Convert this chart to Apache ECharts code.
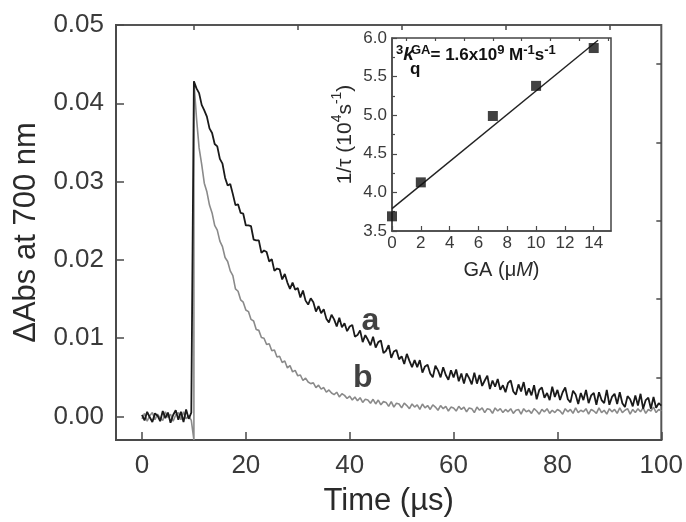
<!DOCTYPE html>
<html>
<head>
<meta charset="utf-8">
<title>ΔAbs at 700 nm</title>
<script src="https://cdn.jsdelivr.net/npm/echarts@6/dist/echarts.min.js"></script>
<style>
html, body { margin: 0; padding: 0; background: #fff; }
#main { width: 686px; height: 522px; }
</style>
</head>
<body>
<div id="main"></div>
<script>
// sampling of the two transients (µs)
var timeStep = 0.5;
var decayStart = 10;

// pre-flash baseline, t = 0 .. 9.5
var baseA = [0.0002, -0.0005, 0.0006, -0.0001, -0.0007, 0.0004, 0.0001, -0.0006, 0.0007, -0.0002,
	0.0005, -0.0008, 0.0002, 0.0008, -0.0004, 0.0006, -0.0007, 0.0009, -0.0003, 0.0005];
var baseB = [-0.0003, 0.0004, -0.0006, 0.0001, 0.0005, -0.0004, 0.0003, -0.0002, -0.0005, 0.0006,
	-0.0001, 0.0003, -0.0006, 0.0002, 0.0005, -0.0004, 0.0006, -0.0003, 0.0001, -0.0005];

// trace a (black), t = 10 .. 100
var decayA = [
	0.0428, 0.0419, 0.0413, 0.0398, 0.0391, 0.0383, 0.0368, 0.0362, 0.0348, 0.0345,
	0.0329, 0.0323, 0.0305, 0.0295, 0.0297, 0.0284, 0.0270, 0.0271, 0.0260, 0.0259,
	0.0244, 0.0244, 0.0243, 0.0226, 0.0225, 0.0225, 0.0209, 0.0212, 0.0210, 0.0198,
	0.0201, 0.0186, 0.0189, 0.0188, 0.0175, 0.0182, 0.0171, 0.0163, 0.0171, 0.0162,
	0.0164, 0.0152, 0.0161, 0.0148, 0.0143, 0.0151, 0.0146, 0.0134, 0.0141, 0.0132,
	0.0137, 0.0125, 0.0120, 0.0130, 0.0124, 0.0115, 0.0126, 0.0114, 0.0119, 0.0109,
	0.0115, 0.0117, 0.0102, 0.0104, 0.0110, 0.0095, 0.0104, 0.0098, 0.0091, 0.0102,
	0.0088, 0.0095, 0.0097, 0.0081, 0.0084, 0.0091, 0.0075, 0.0083, 0.0085, 0.0073,
	0.0077, 0.0067, 0.0080, 0.0071, 0.0063, 0.0072, 0.0063, 0.0072, 0.0056, 0.0064,
	0.0066, 0.0055, 0.0050, 0.0065, 0.0059, 0.0050, 0.0063, 0.0053, 0.0047, 0.0059,
	0.0050, 0.0060, 0.0045, 0.0055, 0.0042, 0.0055, 0.0049, 0.0041, 0.0056, 0.0042,
	0.0053, 0.0039, 0.0046, 0.0052, 0.0035, 0.0046, 0.0038, 0.0048, 0.0034, 0.0040,
	0.0031, 0.0043, 0.0046, 0.0032, 0.0028, 0.0041, 0.0032, 0.0044, 0.0027, 0.0036,
	0.0027, 0.0040, 0.0022, 0.0034, 0.0037, 0.0024, 0.0030, 0.0021, 0.0038, 0.0025,
	0.0034, 0.0021, 0.0031, 0.0037, 0.0022, 0.0018, 0.0033, 0.0028, 0.0016, 0.0030,
	0.0021, 0.0034, 0.0017, 0.0027, 0.0030, 0.0015, 0.0031, 0.0021, 0.0017, 0.0034,
	0.0015, 0.0025, 0.0029, 0.0016, 0.0031, 0.0017, 0.0012, 0.0026, 0.0022, 0.0013,
	0.0027, 0.0014, 0.0029, 0.0010, 0.0021, 0.0024, 0.0010, 0.0025, 0.0011, 0.0017,
	0.0014];

// trace b (grey), t = 10 .. 100
var decayB = [
	0.0428, 0.0381, 0.0343, 0.0322, 0.0298, 0.0287, 0.0270, 0.0260, 0.0244, 0.0238,
	0.0224, 0.0217, 0.0203, 0.0198, 0.0186, 0.0180, 0.0163, 0.0160, 0.0149, 0.0146,
	0.0136, 0.0134, 0.0124, 0.0122, 0.0111, 0.0110, 0.0101, 0.0100, 0.0092, 0.0093,
	0.0084, 0.0085, 0.0076, 0.0077, 0.0069, 0.0071, 0.0062, 0.0065, 0.0057, 0.0059,
	0.0052, 0.0053, 0.0046, 0.0049, 0.0044, 0.0042, 0.0043, 0.0037, 0.0040, 0.0035,
	0.0037, 0.0031, 0.0034, 0.0030, 0.0028, 0.0031, 0.0025, 0.0029, 0.0027, 0.0023,
	0.0026, 0.0021, 0.0025, 0.0020, 0.0024, 0.0018, 0.0022, 0.0021, 0.0017, 0.0022,
	0.0016, 0.0021, 0.0015, 0.0019, 0.0018, 0.0013, 0.0019, 0.0012, 0.0017, 0.0016,
	0.0011, 0.0017, 0.0014, 0.0010, 0.0016, 0.0012, 0.0015, 0.0009, 0.0016, 0.0011,
	0.0014, 0.0009, 0.0015, 0.0012, 0.0008, 0.0014, 0.0010, 0.0013, 0.0007, 0.0012,
	0.0011, 0.0007, 0.0013, 0.0009, 0.0012, 0.0006, 0.0011, 0.0010, 0.0005, 0.0012,
	0.0008, 0.0011, 0.0005, 0.0010, 0.0009, 0.0004, 0.0011, 0.0007, 0.0010, 0.0005,
	0.0009, 0.0006, 0.0010, 0.0004, 0.0008, 0.0009, 0.0003, 0.0010, 0.0006, 0.0008,
	0.0004, 0.0010, 0.0007, 0.0003, 0.0009, 0.0006, 0.0010, 0.0004, 0.0008, 0.0005,
	0.0009, 0.0007, 0.0003, 0.0010, 0.0006, 0.0009, 0.0004, 0.0011, 0.0005, 0.0008,
	0.0006, 0.0010, 0.0003, 0.0009, 0.0007, 0.0004, 0.0011, 0.0005, 0.0008, 0.0003,
	0.0010, 0.0006, 0.0009, 0.0004, 0.0011, 0.0005, 0.0008, 0.0010, 0.0003, 0.0009,
	0.0005, 0.0010, 0.0006, 0.0011, 0.0004, 0.0009, 0.0007, 0.0012, 0.0005, 0.0009,
	0.0007];
var riseFloorB = -0.003; // grey flash line reaches the axis

var curveNames = ['a', 'b'];
var curveLabelT = [44, 42.5];
var curveLabelV = [0.0122, 0.0049];

var xTicks = [0, 20, 40, 60, 80, 100];
var xMinor = [10, 30, 50, 70, 90];
var yTicks = [0, 0.01, 0.02, 0.03, 0.04, 0.05];
var yMinor = [0.005, 0.015, 0.025, 0.035, 0.045];

// inset: quenching plot
var gaConc = [0, 2, 7, 10, 14];
var invTau = [3.69, 4.13, 4.99, 5.38, 5.87];
var fitX = [0, 14.3];
var fitY = [3.79, 5.97];
var insetXTicks = [0, 2, 4, 6, 8, 10, 12, 14];
var insetXMinor = [1, 3, 5, 7, 9, 11, 13, 15];

var FONT = '"Liberation Sans", Arial, Helvetica, sans-serif';

function pts(t0, vals) {
	var out = [];
	for (var i = 0; i < vals.length; i++) out.push([t0 + i * timeStep, vals[i]]);
	return out;
}
var traceA = pts(0, baseA).concat(pts(decayStart, decayA));
var traceB = pts(0, baseB).concat([[decayStart, riseFloorB]], pts(decayStart, decayB));

var labelData = [];
for (var i = 0; i < curveNames.length; i++) {
	labelData.push({ name: curveNames[i], value: [curveLabelT[i], curveLabelV[i]] });
}
var insetPts = [];
for (var i = 0; i < gaConc.length; i++) insetPts.push([gaConc[i], invTau[i]]);
var fitPts = [[fitX[0], fitY[0]], [fitX[1], fitY[1]]];

var axisCol = '#4a4a4a';
var textCol = '#3a3a3a';

var chart = echarts.init(document.getElementById('main'));
var option = {
	animation: false,
	backgroundColor: '#fff',
	textStyle: { fontFamily: FONT },
	grid: [
		{ left: 116, top: 25, width: 546, height: 415, show: true, borderColor: '#555', borderWidth: 2 },
		{ left: 392, top: 38, width: 219, height: 193, show: true, borderColor: '#444', borderWidth: 1.5, backgroundColor: '#fff' }
	],
	xAxis: [
		{
			gridIndex: 0, type: 'value', min: -5, max: 100,
			axisLine: { onZero: false, lineStyle: { color: axisCol, width: 2 } },
			axisTick: { inside: true, length: 8, customValues: xTicks, lineStyle: { color: axisCol, width: 1.5 } },
			axisLabel: { customValues: xTicks, fontSize: 26, color: textCol, margin: 13, fontFamily: FONT },
			splitLine: { show: false },
			name: 'Time (µs)', nameLocation: 'middle', nameGap: 46,
			nameTextStyle: { fontSize: 31, color: '#2a2a2a', fontFamily: FONT }
		},
		{
			gridIndex: 0, type: 'value', min: -5, max: 100,
			axisLine: { show: false, onZero: false },
			axisTick: { inside: true, length: 5, customValues: xMinor, lineStyle: { color: axisCol, width: 1.5 } },
			axisLabel: { show: false }, splitLine: { show: false }
		},
		{
			gridIndex: 1, type: 'value', min: 0, max: 15.2,
			axisLine: { onZero: false, lineStyle: { color: axisCol, width: 1.5 } },
			axisTick: { inside: true, length: 5, customValues: insetXTicks, lineStyle: { color: axisCol, width: 1.2 } },
			axisLabel: { customValues: insetXTicks, fontSize: 17, color: textCol, margin: 4, fontFamily: FONT },
			splitLine: { show: false },
			name: '{n|GA (μ}{i|M}{n|)}', nameLocation: 'middle', nameGap: 29,
			nameTextStyle: {
				rich: {
					n: { fontSize: 20, color: '#2a2a2a', fontFamily: FONT },
					i: { fontSize: 20, color: '#2a2a2a', fontStyle: 'italic', fontFamily: FONT }
				}
			}
		},
		{
			gridIndex: 1, type: 'value', min: 0, max: 15.2,
			axisLine: { show: false, onZero: false },
			axisTick: { inside: true, length: 3, customValues: insetXMinor, lineStyle: { color: axisCol, width: 1.2 } },
			axisLabel: { show: false }, splitLine: { show: false }
		}
	],
	yAxis: [
		{
			gridIndex: 0, type: 'value', min: -0.003, max: 0.05,
			axisLine: { onZero: false, lineStyle: { color: axisCol, width: 2 } },
			axisTick: { inside: true, length: 8, customValues: yTicks, lineStyle: { color: axisCol, width: 1.5 } },
			axisLabel: {
				customValues: yTicks, fontSize: 26, color: textCol, margin: 12, fontFamily: FONT,
				formatter: function (v) { return v.toFixed(2); }
			},
			splitLine: { show: false },
			name: 'ΔAbs at 700 nm', nameLocation: 'middle', nameGap: 74,
			nameTextStyle: { fontSize: 31, color: '#2a2a2a', fontFamily: FONT }
		},
		{
			gridIndex: 0, type: 'value', min: -0.003, max: 0.05,
			axisLine: { show: false, onZero: false },
			axisTick: { inside: true, length: 5, customValues: yMinor, lineStyle: { color: axisCol, width: 1.5 } },
			axisLabel: { show: false }, splitLine: { show: false }
		},
		{
			gridIndex: 1, type: 'value', min: 3.5, max: 6.0, interval: 0.5,
			axisLine: { onZero: false, lineStyle: { color: axisCol, width: 1.5 } },
			axisTick: { inside: true, length: 5, lineStyle: { color: axisCol, width: 1.2 } },
			minorTick: { show: true, splitNumber: 2, length: 3, lineStyle: { color: axisCol, width: 1.2 } },
			axisLabel: {
				fontSize: 17, color: textCol, margin: 5, fontFamily: FONT,
				formatter: function (v) { return v.toFixed(1); }
			},
			splitLine: { show: false },
			name: '{n|1/τ (10}{s|4}{n|s}{s|-1}{n|)}', nameLocation: 'middle', nameGap: 36,
			nameTextStyle: {
				rich: {
					n: { fontSize: 21, color: '#2a2a2a', lineHeight: 26, verticalAlign: 'bottom', fontFamily: FONT },
					s: { fontSize: 14, color: '#2a2a2a', lineHeight: 15, verticalAlign: 'top', fontFamily: FONT }
				}
			}
		}
	],
	series: [
		{
			name: 'b', type: 'line', xAxisIndex: 0, yAxisIndex: 0,
			data: traceB, showSymbol: false, symbol: 'none', z: 2,
			lineStyle: { color: '#8a8a8a', width: 1.6 }
		},
		{
			name: 'a', type: 'line', xAxisIndex: 0, yAxisIndex: 0,
			data: traceA, showSymbol: false, symbol: 'none', z: 3,
			lineStyle: { color: '#1a1a1a', width: 1.8 }
		},
		{
			type: 'scatter', xAxisIndex: 0, yAxisIndex: 0, symbolSize: 0, z: 4,
			data: labelData,
			label: {
				show: true, position: 'inside', formatter: '{b}',
				fontSize: 32, fontWeight: 'bold', color: '#111', fontFamily: FONT
			}
		},
		{
			type: 'line', xAxisIndex: 2, yAxisIndex: 2, data: fitPts,
			showSymbol: false, symbol: 'none', z: 5,
			lineStyle: { color: '#222', width: 1.4 }
		},
		{
			type: 'scatter', xAxisIndex: 2, yAxisIndex: 2, data: insetPts,
			symbol: 'rect', symbolSize: 10, z: 6,
			itemStyle: { color: '#111' }
		}
	],
	graphic: [
		{
			type: 'text', left: 396, top: 44, z: 10,
			style: {
				text: '{s|3}{k|k}',
				rich: {
					s: { fontSize: 13, lineHeight: 14, verticalAlign: 'top', fontWeight: 'bold', fill: '#111', fontFamily: FONT },
					k: { fontSize: 19, lineHeight: 20, verticalAlign: 'bottom', fontStyle: 'italic', fontWeight: 'bold', fill: '#111', fontFamily: FONT }
				}
			}
		},
		{
			type: 'text', left: 410, top: 61, z: 10,
			style: { text: 'q', fontSize: 17, fontWeight: 'bold', fill: '#111', fontFamily: FONT }
		},
		{
			type: 'text', left: 411, top: 44, z: 10,
			style: {
				text: '{s|GA}{t|= 1.6x10}{s|9}{t| M}{s|-1}{t|s}{s|-1}',
				rich: {
					s: { fontSize: 13, lineHeight: 14, verticalAlign: 'top', fontWeight: 'bold', fill: '#111', fontFamily: FONT },
					t: { fontSize: 17, lineHeight: 20, verticalAlign: 'bottom', fontWeight: 'bold', fill: '#111', fontFamily: FONT }
				}
			}
		}
	]
};
chart.setOption(option);
</script>
</body>
</html>
